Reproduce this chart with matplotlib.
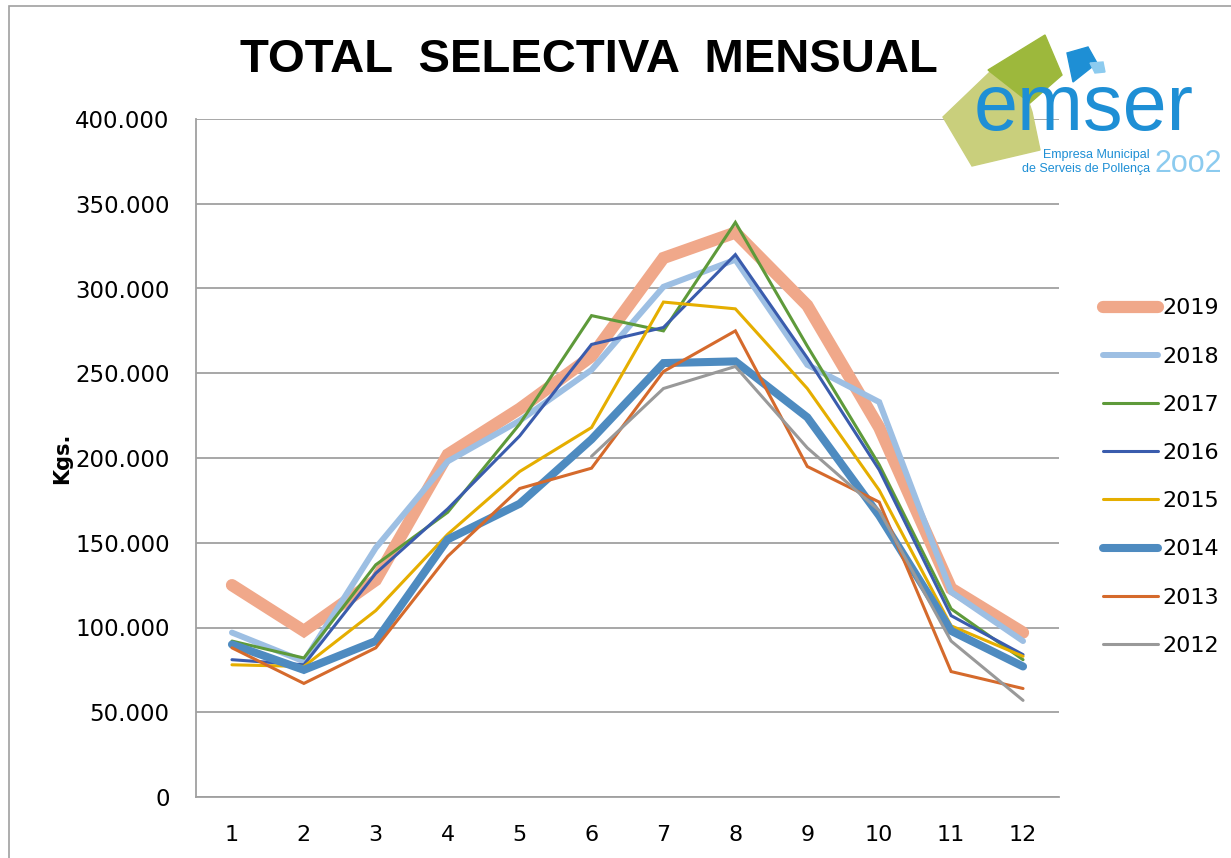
import numpy as np
import matplotlib.pyplot as plt
from matplotlib.patches import Polygon, Rectangle

months = np.arange(1, 13)
nan = np.nan

# kilos per month
y2019 = [125000, 98000, 128000, 202000, 229000, 260000, 318000, 333000, 290000, 218000, 123000, 97000]
y2018 = [97000, 80000, 147000, 198000, 222000, 252000, 301000, 317000, 255000, 233000, 121000, 92000]
y2017 = [92000, 82000, 137000, 168000, 220000, 284000, 275000, 339000, 266000, 196000, 111000, 81000]
y2016 = [81000, 78000, 132000, 170000, 213000, 267000, 277000, 320000, 259000, 193000, 107000, 84000]
y2015 = [78000, 77000, 110000, 155000, 192000, 218000, 292000, 288000, 241000, 181000, 101000, 83000]
y2014 = [90000, 75000, 92000, 152000, 173000, 211000, 256000, 257000, 224000, 166000, 98000, 77000]
y2013 = [88000, 67000, 88000, 142000, 182000, 194000, 251000, 275000, 195000, 174000, 74000, 64000]
y2012 = [nan, nan, nan, nan, nan, 201000, 241000, 254000, 206000, 169000, 92000, 57000]

series = [
    ('2019', y2019, '#F0A88A', 8.8),
    ('2018', y2018, '#9DBFE3', 4.3),
    ('2017', y2017, '#5E9A3A', 2.2),
    ('2016', y2016, '#3A5CAD', 2.2),
    ('2015', y2015, '#E5AE00', 2.2),
    ('2014', y2014, '#4E8BC0', 5.8),
    ('2013', y2013, '#D56A2C', 2.2),
    ('2012', y2012, '#999999', 2.2),
]

fig = plt.figure(figsize=(12.31, 8.58), dpi=100)
fig.patches.append(Rectangle((9 / 1231, -0.01), 1.2, 1 - 6 / 858 + 0.01,
                             transform=fig.transFigure, fill=False,
                             edgecolor='#A0A0A0', linewidth=1.2))

ax = fig.add_axes([196 / 1231, 1 - 797 / 858, (1059 - 196) / 1231, (797 - 119) / 858])

for name, vals, col, lw in series:
    ax.plot(months, vals, color=col, linewidth=lw, label=name,
            solid_capstyle='round', solid_joinstyle='miter')

ax.set_xlim(0.5, 12.5)
ax.set_ylim(0, 400000)
ax.set_xticks(months)
ax.set_yticks(np.arange(0, 400001, 50000))
ax.set_yticklabels(['0'] + [f'{v // 1000}.000' for v in range(50000, 400001, 50000)])
ax.grid(axis='y', color='#A0A0A0', linewidth=1.3)
ax.set_axisbelow(True)
for s in ['top', 'right']:
    ax.spines[s].set_visible(False)
for s in ['left', 'bottom']:
    ax.spines[s].set_color('#A0A0A0')
    ax.spines[s].set_linewidth(1.3)
ax.tick_params(axis='y', length=0, labelsize=16.5, pad=19)
ax.tick_params(axis='x', length=0, labelsize=16, pad=20)
ax.set_ylabel('Kgs.', fontsize=15, fontweight='bold', labelpad=2)

leg = ax.legend(loc='upper left', bbox_to_anchor=(1.028, 0.765), frameon=False,
                fontsize=16, handlelength=2.45, handletextpad=0.2, labelspacing=1.27)

fig.text(589 / 1231, 1 - 60 / 858, 'TOTAL  SELECTIVA  MENSUAL', ha='center', va='center',
         fontsize=34, fontweight='bold', family='Liberation Sans')

# logo
lg = fig.add_axes([0, 0, 1, 1], facecolor='none')
lg.set_xlim(0, 1231)
lg.set_ylim(858, 0)
lg.axis('off')
lg.add_patch(Polygon([(943, 117), (990, 72), (1018, 70), (1032, 112), (1040, 150), (972, 166)],
                     closed=True, color='#C9CF7C', zorder=1))
lg.add_patch(Polygon([(988, 70), (1045, 35), (1062, 75), (1030, 103)],
                     closed=True, color='#9DB83C', zorder=2))
lg.add_patch(Polygon([(1067, 53), (1088, 47), (1097, 63), (1073, 82)],
                     closed=True, color='#1E8FD5', zorder=2))
lg.add_patch(Polygon([(1090, 63), (1103, 62), (1105, 72), (1095, 73)],
                     closed=True, color='#8CCBEF', zorder=2))
lg.text(1084, 130, 'emser', ha='center', va='baseline', fontsize=57,
        color='#1E8FD5', family='Liberation Sans', zorder=3)
lg.text(1150, 158, 'Empresa Municipal', ha='right', va='baseline', fontsize=9,
        color='#1E8FD5', family='Liberation Sans', zorder=3)
lg.text(1150, 172, 'de Serveis de Pollença', ha='right', va='baseline', fontsize=9,
        color='#1E8FD5', family='Liberation Sans', zorder=3)
lg.text(1155, 172, '2oo2', ha='left', va='baseline', fontsize=22,
        color='#8CCBEF', family='Liberation Sans', zorder=3)

fig.savefig('out.png', dpi=100)
